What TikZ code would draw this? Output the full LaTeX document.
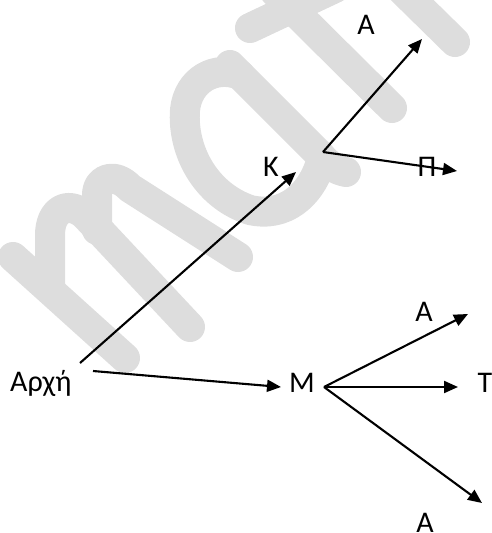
\documentclass[tikz,border=0pt]{standalone}
\usepackage{fontspec}
\setmainfont{Carlito}
\usetikzlibrary{arrows.meta}
\definecolor{wmgray}{RGB}{221,221,221}
\begin{document}
\begin{tikzpicture}[x=1pt,y=-1pt,
  wm/.style={draw=wmgray,line width=30pt,line cap=round,line join=round},
  arr/.style={draw=black,line width=2.1pt,-{Triangle[length=14pt,width=12pt]}},
  lbl/.style={font=\fontsize{30}{32}\selectfont,inner sep=0pt,anchor=base}]
\useasboundingbox (0,0) rectangle (491,533);

% background lettering "math"
\draw[wm] (13,257) -- (125,358);
\draw[wm] (50,285) -- (50,235) .. controls (50,210) and (68,200) .. (85,215) -- (190,327);
\draw[wm] (97,230) -- (97,195) .. controls (97,178) and (115,172) .. (130,188) -- (238,257);
\draw[wm] (240,75) .. controls (215,65) and (188,80) .. (185,110)
          .. controls (182,150) and (205,195) .. (250,210)
          .. controls (285,218) and (310,195) .. (320,165);
\draw[wm] (230,65) -- (320,155) .. controls (328,165) and (336,170) .. (346,172);
\draw[wm] (250,28) -- (335,-12);
\draw[wm] (275,-8) -- (392,108);
\draw[wm] (400,-12) -- (455,42);

% labels
\node[lbl,anchor=base west] (arxi) at (10,391) {Αρχή};
\node[lbl] (K)  at (271,176) {Κ};
\node[lbl] (A1) at (366,34)  {Α};
\node[lbl] (P)  at (427,176) {Π};
\node[lbl] (M)  at (302,392) {Μ};
\node[lbl] (A2) at (424,321) {Α};
\node[lbl] (T)  at (485,392) {Τ};
\node[lbl] (A3) at (425,532) {Α};

% connector ends
\coordinate (s1) at (80,363);
\coordinate (k)  at (296,172);
\coordinate (j)  at (323,152);
\coordinate (a1) at (422,39);
\coordinate (p)  at (457,171);
\coordinate (s2) at (93,371);
\coordinate (m)  at (281,387);
\coordinate (mj) at (324,387);
\coordinate (a2) at (468,314);
\coordinate (t)  at (458,387);
\coordinate (a3) at (482,503);

% arrows
\draw[arr] (s1) -- (k);
\draw[arr] (j) -- (a1);
\draw[arr] (j) -- (p);
\draw[arr] (s2) -- (m);
\draw[arr] (mj) -- (a2);
\draw[arr] (mj) -- (t);
\draw[arr] (mj) -- (a3);
\end{tikzpicture}
\end{document}
